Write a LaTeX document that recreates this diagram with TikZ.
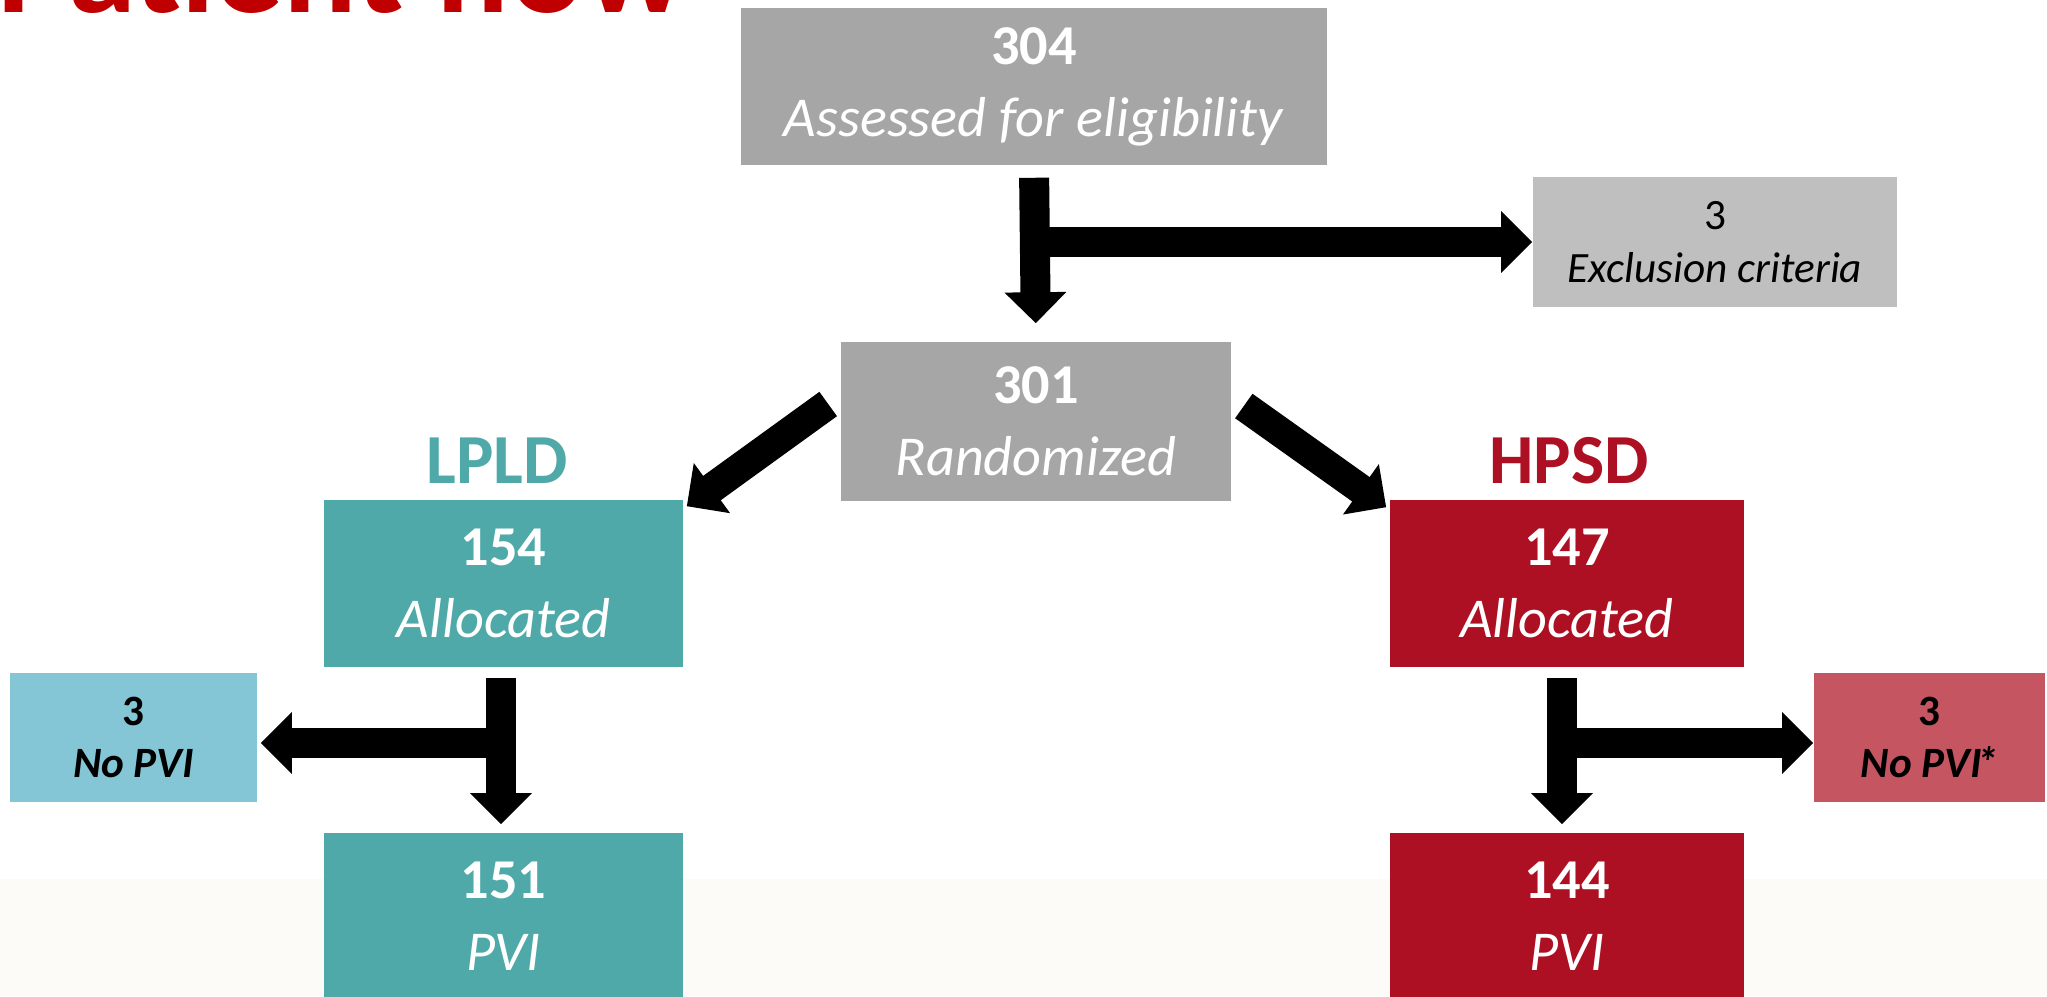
\documentclass[tikz,border=0pt]{standalone}
\usepackage{fontspec}
\setmainfont{Carlito}
\usetikzlibrary{arrows.meta, positioning, calc}
\definecolor{boxgray}{HTML}{A6A6A6}
\definecolor{exclgray}{HTML}{BFBFBF}
\definecolor{lpldteal}{HTML}{4EA9A8}
\definecolor{lpldlight}{HTML}{84C5D6}
\definecolor{hpsdred}{HTML}{AD1022}
\definecolor{hpsdlight}{HTML}{C55661}
\definecolor{titlered}{HTML}{C00000}
\definecolor{bandcream}{HTML}{FCFBF8}

\begin{document}
\begin{tikzpicture}[
    x=0.01cm, y=-0.01cm,
    every node/.style={inner sep=0pt, align=center},
    bigbox/.style={minimum height=1.67cm, font=\fontsize{16}{20.5}\selectfont, text=white},
    smallbox/.style={minimum height=1.29cm, font=\fontsize{12.3}{15}\selectfont, text=black},
    armlabel/.style={font=\fontsize{20}{24}\selectfont\bfseries},
    bigarrow/.style={-{Triangle[length=0.31cm, width=0.6cm]}, line width=0.3cm, black}
]
    \useasboundingbox (0,0) rectangle (2047,996);
    \clip (0,0) rectangle (2047,996);
    \fill[bandcream] (0,879) rectangle (2047,996);

    \node[anchor=base west, font=\fontsize{39}{41}\selectfont\bfseries, text=titlered] (title) at (-3,12) {Patient flow};

    % screening
    \node[bigbox, fill=boxgray, minimum width=5.85cm, minimum height=1.57cm] (assess) at (1034,86.5) {\textbf{304}\\\textit{Assessed for eligibility}};
    \node[smallbox, fill=exclgray, minimum width=3.64cm, minimum height=1.30cm] (excl) at (1715,242) {3\\\textit{Exclusion criteria}};
    \node[bigbox, fill=boxgray, minimum width=3.90cm, minimum height=1.59cm] (rand) at (1036,421.5) {\textbf{301}\\\textit{Randomized}};

    % arms
    \node[bigbox, fill=lpldteal, minimum width=3.59cm] (lalloc) at (503.5,583.5) {\textbf{154}\\\textit{Allocated}};
    \node[bigbox, fill=hpsdred, minimum width=3.54cm] (halloc) at (1567,583.5) {\textbf{147}\\\textit{Allocated}};
    \node[armlabel, text=lpldteal] (lpld) at (497,461) {LPLD};
    \node[armlabel, text=hpsdred] (hpsd) at (1569,461) {HPSD};

    \node[smallbox, fill=lpldlight, minimum width=2.47cm] (lnopvi) at (133.5,737.5) {\textbf{3}\\\textbf{\textit{No PVI}}};
    \node[smallbox, fill=hpsdlight, minimum width=2.31cm] (hnopvi) at (1929.5,737.5) {\textbf{3}\\\textbf{\textit{No PVI\kern-0.12em*}}};

    \node[bigbox, fill=lpldteal, minimum width=3.59cm] (lpvi) at (503.5,916.5) {\textbf{151}\\\textit{PVI}};
    \node[bigbox, fill=hpsdred, minimum width=3.54cm] (hpvi) at (1567,916.5) {\textbf{144}\\\textit{PVI}};

    % arrows
    \draw[bigarrow, shorten <=0.12cm, shorten >=0.18cm] (assess.south) -- (rand.north);
    \draw[bigarrow] (assess.south |- excl.west) -- (excl.west);
    \draw[bigarrow] ([shift={(-12,-17.5)}]rand.west) -- ([shift={(3,7)}]lalloc.north east);
    \draw[bigarrow] ([shift={(12,-15.5)}]rand.east) -- ([shift={(-3,8)}]halloc.north west);

    \draw[bigarrow, shorten <=0.10cm, shorten >=0.08cm] ([xshift=-0.025cm]lalloc.south) -- ([xshift=-0.025cm]lpvi.north);
    \draw[bigarrow, shorten >=0.03cm] ([xshift=-0.025cm]lalloc.south |- 0,743) -- (lnopvi.east |- 0,743);
    \draw[bigarrow, shorten <=0.10cm, shorten >=0.08cm] ([xshift=-0.05cm]halloc.south) -- ([xshift=-0.05cm]hpvi.north);
    \draw[bigarrow] ([xshift=-0.05cm]halloc.south |- 0,743) -- (hnopvi.west |- 0,743);
\end{tikzpicture}
\end{document}
